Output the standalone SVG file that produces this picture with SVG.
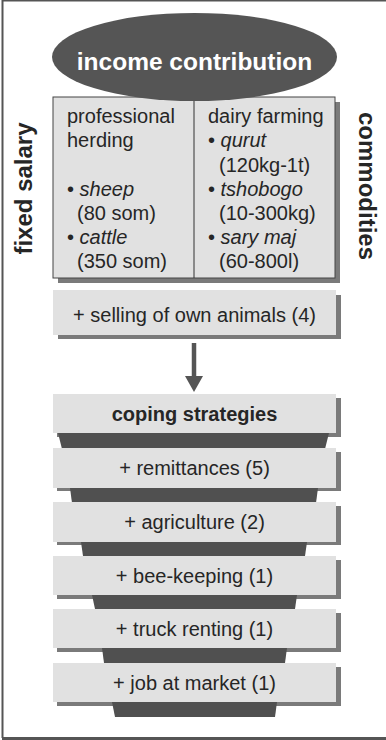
<svg xmlns="http://www.w3.org/2000/svg" width="386" height="740" viewBox="0 0 386 740">
<defs>
<style>
text{font-family:"Liberation Sans",Arial,sans-serif;fill:#262626}
.t{font-size:20px}
.b{font-weight:bold}
.c{text-anchor:middle}
.i{font-style:italic}
.box{fill:#e1e1e1}
.sh{fill:#7a7a7a}
.tz{fill:#505050}
.frame{stroke:#555;fill:none}
</style>
<marker id="ah" viewBox="0 0 16 18" refX="0" refY="9" markerWidth="16" markerHeight="18" markerUnits="userSpaceOnUse" orient="auto">
<path d="M0,0 L16,9 L0,18 Z" fill="#555"/>
</marker>
</defs>
<rect width="386" height="740" fill="#fff"/>
<g id="frame">
<line class="frame" x1="2.5" y1="0" x2="2.5" y2="738" stroke-width="2"/>
<line class="frame" x1="2" y1="0.75" x2="386" y2="0.75" stroke-width="1.5"/>
<line class="frame" x1="2" y1="738.5" x2="386" y2="738.5" stroke-width="3"/>
</g>

<g id="node-income-sources">
<rect class="sh" x="58" y="102" width="282" height="181"/>
<rect class="box" x="53" y="97" width="282" height="181" stroke="#444" stroke-width="1"/>
<line x1="194" y1="97" x2="194" y2="278" stroke="#333" stroke-width="1"/>
<text class="t" x="67" y="123">professional</text>
<text class="t" x="67" y="147">herding</text>
<text class="t" x="67" y="196">• <tspan class="i">sheep</tspan></text>
<text class="t" x="77" y="220">(80 som)</text>
<text class="t" x="67" y="244">• <tspan class="i">cattle</tspan></text>
<text class="t" x="77" y="268">(350 som)</text>
<text class="t" x="208" y="123">dairy farming</text>
<text class="t" x="208" y="147">• <tspan class="i">qurut</tspan></text>
<text class="t" x="219" y="171.5">(120kg-1t)</text>
<text class="t" x="208" y="196">• <tspan class="i">tshobogo</tspan></text>
<text class="t" x="219" y="220">(10-300kg)</text>
<text class="t" x="208" y="244">• <tspan class="i">sary maj</tspan></text>
<text class="t" x="219" y="268">(60-800l)</text>
</g>

<g id="node-income-contribution">
<ellipse cx="194.5" cy="57" rx="142.5" ry="44" fill="#555"/>
<text class="b c" x="194.5" y="70" font-size="24.5" style="fill:#fff">income contribution</text>
</g>

<g id="label-fixed-salary">
<text class="b c" transform="translate(32,188.5) rotate(-90)" font-size="24">fixed salary</text>
</g>
<g id="label-commodities">
<text class="b c" transform="translate(359,186) rotate(90)" font-size="24">commodities</text>
</g>

<g id="node-selling">
<rect class="sh" x="58" y="295" width="283" height="44"/>
<rect class="box" x="53" y="290" width="283" height="45"/>
<text class="t c" x="194.5" y="322">+ selling of own animals (4)</text>
</g>

<g id="connectors">
<line x1="194" y1="343" x2="194" y2="376" stroke="#555" stroke-width="4.5" marker-end="url(#ah)"/>
</g>

<g id="node-coping">
<rect class="sh" x="57" y="398" width="284" height="39"/>
<rect class="box" x="53" y="394" width="283" height="39"/>
<path class="tz" d="M58,433 L329,433 L325,449 L62,449 Z"/>
<text class="t b c" x="194.5" y="420.5">coping strategies</text>
</g>

<g id="node-remittances">
<rect class="sh" x="57" y="452" width="284" height="39"/>
<rect class="box" x="53" y="448" width="283" height="40"/>
<path class="tz" d="M70,488 L318,488 L316,503 L72,503 Z"/>
<text class="t c" x="194.5" y="475">+ remittances (5)</text>
</g>

<g id="node-agriculture">
<rect class="sh" x="57" y="506" width="284" height="39"/>
<rect class="box" x="53" y="502" width="283" height="40"/>
<path class="tz" d="M81,542 L307,542 L305,556 L83,556 Z"/>
<text class="t c" x="194.5" y="529">+ agriculture (2)</text>
</g>

<g id="node-bee-keeping">
<rect class="sh" x="57" y="560" width="284" height="39"/>
<rect class="box" x="53" y="556" width="283" height="39"/>
<path class="tz" d="M92,595 L297,595 L295,609 L95,609 Z"/>
<text class="t c" x="194.5" y="582.5">+ bee-keeping (1)</text>
</g>

<g id="node-truck-renting">
<rect class="sh" x="57" y="613" width="284" height="39"/>
<rect class="box" x="53" y="609" width="283" height="39"/>
<path class="tz" d="M102,648 L287,648 L285,663 L104,663 Z"/>
<text class="t c" x="194.5" y="635.5">+ truck renting (1)</text>
</g>

<g id="node-job-market">
<rect class="sh" x="57" y="667" width="284" height="39"/>
<rect class="box" x="53" y="663" width="283" height="39"/>
<path class="tz" d="M112,702 L277,702 L275,717 L115,717 Z"/>
<text class="t c" x="194.5" y="689.5">+ job at market (1)</text>
</g>
</svg>
